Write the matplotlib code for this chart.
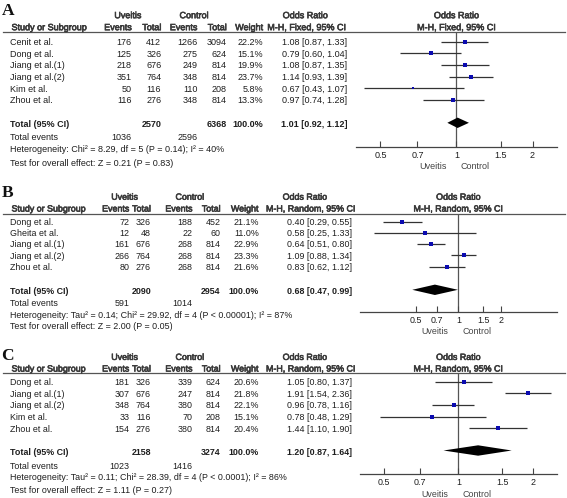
import matplotlib
matplotlib.use('Agg')
import matplotlib.pyplot as plt
import numpy as np
from matplotlib.ticker import FixedLocator, FixedFormatter, NullLocator
import matplotlib.transforms as mtransforms
import matplotlib.patheffects as pe_

plt.rcParams['font.family'] = ['Liberation Sans', 'DejaVu Sans']

# ---------------- data ----------------
# Panel A (M-H, Fixed)
studies_A = ["Cenit et al.", "Dong et al.", "Jiang et al.(1)", "Jiang et al.(2)", "Kim et al.", "Zhou et al."]
uv_events_A = [176, 125, 218, 351, 50, 116]
uv_total_A = [412, 326, 676, 764, 116, 276]
ct_events_A = [1266, 275, 249, 348, 110, 348]
ct_total_A = [3094, 624, 814, 814, 208, 814]
weight_A = [22.2, 15.1, 19.9, 23.7, 5.8, 13.3]
or_A = [1.08, 0.79, 1.08, 1.14, 0.67, 0.97]
lo_A = [0.87, 0.60, 0.87, 0.93, 0.43, 0.74]
hi_A = [1.33, 1.04, 1.35, 1.39, 1.07, 1.28]
tot_A = [2570, 6368]
tot_events_A = [1036, 2596]
pooled_A = [1.01, 0.92, 1.12]
het_A = "Heterogeneity: Chi² = 8.29, df = 5 (P = 0.14); I² = 40%"
test_A = "Test for overall effect: Z = 0.21 (P = 0.83)"

# Panel B (M-H, Random)
studies_B = ["Dong et al.", "Gheita et al.", "Jiang et al.(1)", "Jiang et al.(2)", "Zhou et al."]
uv_events_B = [72, 12, 161, 266, 80]
uv_total_B = [326, 48, 676, 764, 276]
ct_events_B = [188, 22, 268, 268, 268]
ct_total_B = [452, 60, 814, 814, 814]
weight_B = [21.1, 11.0, 22.9, 23.3, 21.6]
or_B = [0.40, 0.58, 0.64, 1.09, 0.83]
lo_B = [0.29, 0.25, 0.51, 0.88, 0.62]
hi_B = [0.55, 1.33, 0.80, 1.34, 1.12]
tot_B = [2090, 2954]
tot_events_B = [591, 1014]
pooled_B = [0.68, 0.47, 0.99]
het_B = "Heterogeneity: Tau² = 0.14; Chi² = 29.92, df = 4 (P < 0.00001); I² = 87%"
test_B = "Test for overall effect: Z = 2.00 (P = 0.05)"

# Panel C (M-H, Random)
studies_C = ["Dong et al.", "Jiang et al.(1)", "Jiang et al.(2)", "Kim et al.", "Zhou et al."]
uv_events_C = [181, 307, 348, 33, 154]
uv_total_C = [326, 676, 764, 116, 276]
ct_events_C = [339, 247, 380, 70, 380]
ct_total_C = [624, 814, 814, 208, 814]
weight_C = [20.6, 21.8, 22.1, 15.1, 20.4]
or_C = [1.05, 1.91, 0.96, 0.78, 1.44]
lo_C = [0.80, 1.54, 0.78, 0.48, 1.10]
hi_C = [1.37, 2.36, 1.16, 1.29, 1.90]
tot_C = [2158, 3274]
tot_events_C = [1023, 1416]
pooled_C = [1.20, 0.87, 1.64]
het_C = "Heterogeneity: Tau² = 0.11; Chi² = 28.39, df = 4 (P < 0.0001); I² = 86%"
test_C = "Test for overall effect: Z = 1.11 (P = 0.27)"

tick_vals = [0.5, 0.7, 1, 1.5, 2]
tick_labels = ["0.5", "0.7", "1", "1.5", "2"]

# ---------------- layout (pixels) ----------------
W, H = 567, 498
TXT = '#1e1e1e'
HDR = '#3a3a3a'
LINE = '#555555'
BLUE = '#0b0bb0'
HFX = [pe_.withStroke(linewidth=0.45, foreground=HDR)]

panels = [
    dict(letter='A', method='M-H, Fixed, 95% CI', studies=studies_A, uve=uv_events_A, uvt=uv_total_A,
         cte=ct_events_A, ctt=ct_total_A, w=weight_A, orr=or_A, lo=lo_A, hi=hi_A, tot=tot_A,
         totev=tot_events_A, pooled=pooled_A, het=het_A, test=test_A, fs=6.5,
         letter_y=14.5, h1=15, h2=27, line=32, row0=41.7, dy=11.66, total=124, tev=136.7, hety=148.7,
         testy=162.3, axis_y=146.7, ax_x=(356, 557), xlim=(0.4, 2.5),
         cols=[131.7, 161.3, 197.3, 226.7, 263.3], or_right=347.3, uv_c=128, ct_c=194,
         orh1=305.3, orh2=306.7, fav_y=165.7),
    dict(letter='B', method='M-H, Random, 95% CI', studies=studies_B, uve=uv_events_B, uvt=uv_total_B,
         cte=ct_events_B, ctt=ct_total_B, w=weight_B, orr=or_B, lo=lo_B, hi=hi_B, tot=tot_B,
         totev=tot_events_B, pooled=pooled_B, het=het_B, test=test_B, fs=6.4,
         letter_y=197, h1=196.5, h2=208.3, line=213.7, row0=221.7, dy=11.25, total=291, tev=302.3,
         hety=314.3, testy=326, axis_y=312.3, ax_x=(360, 557), xlim=(0.2, 5),
         cols=[129.5, 151, 192.7, 220.7, 258.7], or_right=351.7, uv_c=124.7, ct_c=190,
         orh1=305, orh2=311, fav_y=330.3),
    dict(letter='C', method='M-H, Random, 95% CI', studies=studies_C, uve=uv_events_C, uvt=uv_total_C,
         cte=ct_events_C, ctt=ct_total_C, w=weight_C, orr=or_C, lo=lo_C, hi=hi_C, tot=tot_C,
         totev=tot_events_C, pooled=pooled_C, het=het_C, test=test_C, fs=6.4,
         letter_y=359.5, h1=356.7, h2=368.3, line=372.7, row0=381.7, dy=11.65, total=451.7, tev=465.3,
         hety=476.7, testy=489.3, axis_y=474, ax_x=(360, 557), xlim=(0.4, 2.5),
         cols=[129.5, 151, 192.7, 220.7, 258.7], or_right=351.7, uv_c=124.7, ct_c=190,
         orh1=305, orh2=311, fav_y=493.3),
]

BASE = 3.2  # offset from visual text centre to baseline (px)

fig = plt.figure(figsize=(W / 100, H / 100), dpi=100)
bg = fig.add_axes([0, 0, 1, 1])
bg.set_xlim(0, W)
bg.set_ylim(H, 0)
bg.axis('off')

for p in panels:
    FS = p['fs']

    def t(x, y, s, ha='left', bold=False, color=TXT, hdr=False):
        kw = {}
        if hdr:
            kw['path_effects'] = HFX
            color = HDR
        bg.text(x, y + BASE, s, ha=ha, va='baseline', fontsize=FS,
                fontweight='bold' if bold else 'normal', color=color, **kw)

    # panel letter
    bg.text(1.5, p['letter_y'], p['letter'], fontfamily=['Liberation Serif'], fontweight='bold',
            fontsize=12.5, va='baseline', ha='left', color='#111111')
    # headers
    t(p['uv_c'], p['h1'], 'Uveitis', ha='center', hdr=True)
    t(p['ct_c'], p['h1'], 'Control', ha='center', hdr=True)
    t(p['orh1'], p['h1'], 'Odds Ratio', ha='center', hdr=True)
    t(11.5, p['h2'], 'Study or Subgroup', hdr=True)
    for x, s in zip(p['cols'], ['Events', 'Total', 'Events', 'Total', 'Weight']):
        t(x, p['h2'], s, ha='right', hdr=True)
    t(p['orh2'], p['h2'], p['method'], ha='center', hdr=True)
    bg.plot([3, 565], [p['line'], p['line']], color=LINE, lw=0.9)

    # study rows
    for i, name in enumerate(p['studies']):
        y = p['row0'] + i * p['dy']
        t(10, y, name)
        vals = [str(p['uve'][i]), str(p['uvt'][i]), str(p['cte'][i]), str(p['ctt'][i]),
                f"{p['w'][i]:.1f}%"]
        for x, s in zip(p['cols'], vals):
            t(x, y, s, ha='right')
        t(p['or_right'], y, f"{p['orr'][i]:.2f} [{p['lo'][i]:.2f}, {p['hi'][i]:.2f}]", ha='right')

    # totals
    t(10, p['total'], 'Total (95% CI)', bold=True)
    t(p['cols'][1], p['total'], str(p['tot'][0]), ha='right', bold=True)
    t(p['cols'][3], p['total'], str(p['tot'][1]), ha='right', bold=True)
    t(p['cols'][4], p['total'], '100.0%', ha='right', bold=True)
    pe, pl, ph = p['pooled']
    t(p['or_right'], p['total'], f"{pe:.2f} [{pl:.2f}, {ph:.2f}]", ha='right', bold=True)
    t(10, p['tev'], 'Total events')
    t(p['cols'][0], p['tev'], str(p['totev'][0]), ha='right')
    t(p['cols'][2], p['tev'], str(p['totev'][1]), ha='right')
    t(10, p['hety'], p['het'])
    t(10, p['testy'], p['test'])

    # forest axes
    x0, x1 = p['ax_x']
    ytop, ybot = p['line'], p['axis_y']
    ax = fig.add_axes([x0 / W, 1 - ybot / H, (x1 - x0) / W, (ybot - ytop) / H])
    ax.set_facecolor('none')
    ax.set_xscale('log')
    ax.set_xlim(*p['xlim'])
    ax.set_ylim(ybot, ytop)
    for s in ['top', 'left', 'right']:
        ax.spines[s].set_visible(False)
    ax.spines['bottom'].set_color('#444444')
    ax.spines['bottom'].set_linewidth(0.9)
    ax.xaxis.set_major_locator(FixedLocator(tick_vals))
    ax.xaxis.set_major_formatter(FixedFormatter(tick_labels))
    ax.xaxis.set_minor_locator(NullLocator())
    ax.tick_params(axis='x', direction='in', length=4, width=0.8, color='#444444',
                   labelsize=FS, labelcolor=TXT, pad=3)
    ax.set_yticks([])
    ax.axvline(1, color=LINE, lw=0.9, zorder=1)

    ys = [p['row0'] + i * p['dy'] for i in range(len(p['studies']))]
    for y, e, l, h, w in zip(ys, p['orr'], p['lo'], p['hi'], p['w']):
        ax.plot([l, h], [y, y], color='#333333', lw=0.9, zorder=2, solid_capstyle='butt')
        ax.plot([e], [y], marker='s', ms=0.66 * np.sqrt(w), color=BLUE, mec=BLUE, mew=0, zorder=3)
    yc = p['total'] - 1.2
    hh = 5.2
    ax.fill([pl, pe, ph, pe], [yc, yc - hh, yc, yc + hh], color='black', lw=0, zorder=3)

    # favours labels
    tr_l = mtransforms.offset_copy(ax.get_xaxis_transform(), fig=fig, x=-10, y=0, units='dots')
    tr_r = mtransforms.offset_copy(ax.get_xaxis_transform(), fig=fig, x=4, y=0, units='dots')
    fy = -(p['fav_y'] + BASE - ybot) / (ybot - ytop)
    ax.text(1, fy, 'Uveitis', transform=tr_l, ha='right', va='baseline', fontsize=FS,
            color='#444444', clip_on=False)
    ax.text(1, fy, 'Control', transform=tr_r, ha='left', va='baseline', fontsize=FS,
            color='#444444', clip_on=False)
    # right-hand header centred on the line of no effect
    hy1 = -(p['h1'] + BASE - ybot) / (ybot - ytop)
    hy2 = -(p['h2'] + BASE - ybot) / (ybot - ytop)
    ax.text(1, hy1, 'Odds Ratio', transform=ax.get_xaxis_transform(), ha='center',
            va='baseline', fontsize=FS, color=HDR, path_effects=HFX, clip_on=False)
    ax.text(1, hy2, p['method'], transform=ax.get_xaxis_transform(), ha='center',
            va='baseline', fontsize=FS, color=HDR, path_effects=HFX, clip_on=False)

fig.savefig('out.png', dpi=100)
